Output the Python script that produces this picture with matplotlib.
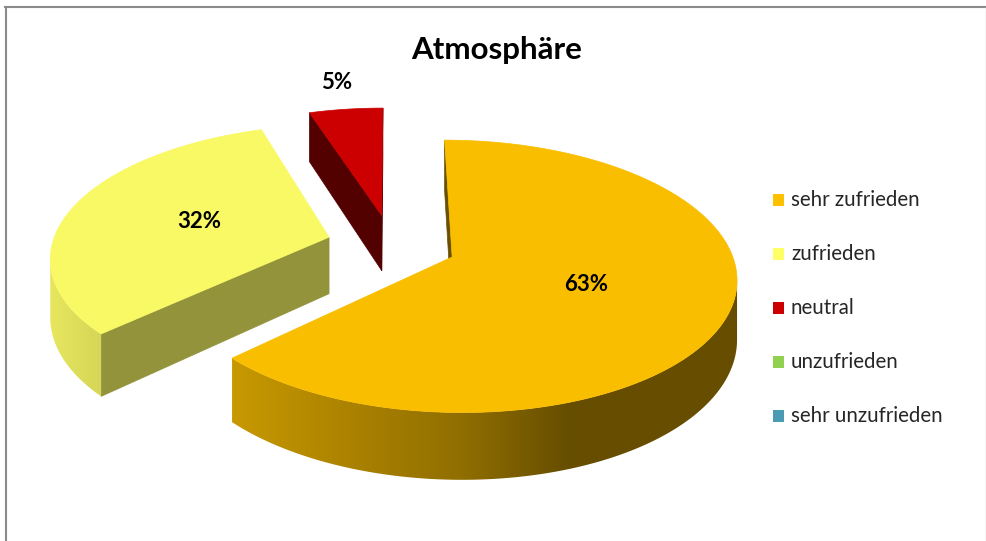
import numpy as np
import matplotlib
matplotlib.use("Agg")
import matplotlib.pyplot as plt
from matplotlib.patches import Polygon, Rectangle
from matplotlib.lines import Line2D

# survey answers for "Atmosphäre"
categories = ["sehr zufrieden", "zufrieden", "neutral", "unzufrieden", "sehr unzufrieden"]
shares = [63, 32, 5, 0, 0]
legend_colors = ["#FFC000", "#FFFF66", "#CC0000", "#92D050", "#4A9BB3"]
top_colors = ["#F9BE00", "#F9F966", "#CC0000", "#92D050", "#4A9BB3"]
title = "Atmosphäre"

# 3d look of the pie (pixel space)
CX, CY = 391.6, 244.7
RX, RY = 277.0, 130.0
PERSP = 0.14
DEPTH = 57.0
EXPLODE = 0.235
label_r = [0.5, 0.5, 1.29, 0.5, 0.5]
cut_shade = [0.42, 0.59, 0.40, 0.5, 0.5]
# brightness of the curved side across the picture (light from the left)
light_x = [40, 100, 235, 460, 570, 1000]
light_f = [0.94, 0.86, 0.80, 0.58, 0.41, 0.41]

plt.rcParams['font.family'] = ['Lato', 'DejaVu Sans']

W, H = 986, 541
fig = plt.figure(figsize=(W / 100, H / 100), dpi=100)
ax = fig.add_axes([0, 0, 1, 1])


def project(X, Y, down=0.0):
    w = 1 + PERSP * Y
    return CX + RX * X / w, CY + (-RY * Y + DEPTH * down) / w


def shade(color, f):
    rgb = np.array(matplotlib.colors.to_rgb(color))
    return tuple(np.clip(rgb * f, 0, 1))


def cross(a, b):
    return a[0] * b[1] - a[1] * b[0]


total = float(sum(shares))
start = 0.0
for i, v in enumerate(shares):
    if v <= 0:
        continue
    t1 = start
    t2 = start + 360.0 * v / total
    start = t2
    mid = np.radians((t1 + t2) / 2)
    ox, oy = EXPLODE * np.sin(mid), EXPLODE * np.cos(mid)
    apex = np.array(project(ox, oy))
    inner = np.array(project(ox + 0.1 * np.sin(mid), oy + 0.1 * np.cos(mid)))

    thetas = np.linspace(t1, t2, max(int((t2 - t1) * 3), 2))
    rad = np.radians(thetas)
    rx, ry = ox + np.sin(rad), oy + np.cos(rad)
    top = np.array([project(x, y) for x, y in zip(rx, ry)])
    bot = np.array([project(x, y, 1.0) for x, y in zip(rx, ry)])
    apex_b = np.array(project(ox, oy, 1.0))

    # cut faces along both radii
    for k in (0, -1):
        q = top[k]
        e = q - apex
        if np.sign(cross(e, inner - apex)) != np.sign(cross(e, (0, 1))):
            quad = [apex, q, bot[k], apex_b]
            c = shade(top_colors[i], cut_shade[i])
            ax.add_patch(Polygon(quad, closed=True, facecolor=c, edgecolor=c, lw=0.5))

    # curved outer side: visible stretch filled with a horizontal gradient
    seen = []
    for j in range(len(thetas) - 1):
        e = top[j + 1] - top[j]
        if np.sign(cross(e, apex - top[j])) != np.sign(cross(e, (0, 1))):
            seen.append(j)
    if seen:
        j0, j1 = seen[0], seen[-1] + 1
        outline = np.vstack([top[j0:j1 + 1], bot[j0:j1 + 1][::-1]])
        x0, x1 = outline[:, 0].min(), outline[:, 0].max()
        y0, y1 = outline[:, 1].min(), outline[:, 1].max()
        xs = np.linspace(x0, x1, 400)
        base = np.array(matplotlib.colors.to_rgb(top_colors[i]))
        grad = np.clip(np.interp(xs, light_x, light_f)[:, None] * base, 0, 1)
        img = ax.imshow(grad[None, :, :], extent=(x0, x1, y1, y0), origin='upper',
                        aspect='auto', interpolation='bilinear', zorder=1)
        clip = Polygon(outline, closed=True, facecolor='none', edgecolor='none',
                       transform=ax.transData)
        img.set_clip_path(clip)

    face = np.vstack([apex, top])
    ax.add_patch(Polygon(face, closed=True, facecolor=top_colors[i],
                         edgecolor=top_colors[i], lw=0.5, zorder=2))

    lx = ox + label_r[i] * np.sin(mid)
    ly = oy + label_r[i] * np.cos(mid)
    px, py = project(lx, ly)
    ax.text(px, py, f"{v}%", ha='center', va='center', fontsize=16,
            fontweight='bold', color='black', zorder=5)

ax.text(496.5, 50, title, ha='center', va='center', fontsize=22.5,
        fontweight='bold', color='black')

# legend
for i, (name, col) in enumerate(zip(categories, legend_colors)):
    y = 199.5 + i * 54
    ax.add_patch(Rectangle((773, y - 6), 11, 12, facecolor=col, edgecolor='none'))
    ax.text(791, y, name, ha='left', va='center', fontsize=14.8, color='#262626')

# chart border
ax.add_line(Line2D([6, 6], [7, H], color='#8A8A8A', lw=1.5))
ax.add_line(Line2D([5, 985], [7, 7], color='#8A8A8A', lw=1.5))
ax.add_line(Line2D([985.5, 985.5], [7, H], color='#D0D0D0', lw=1))

ax.set_xlim(0, W)
ax.set_ylim(H, 0)
ax.axis('off')

fig.savefig("out.png", dpi=100)
